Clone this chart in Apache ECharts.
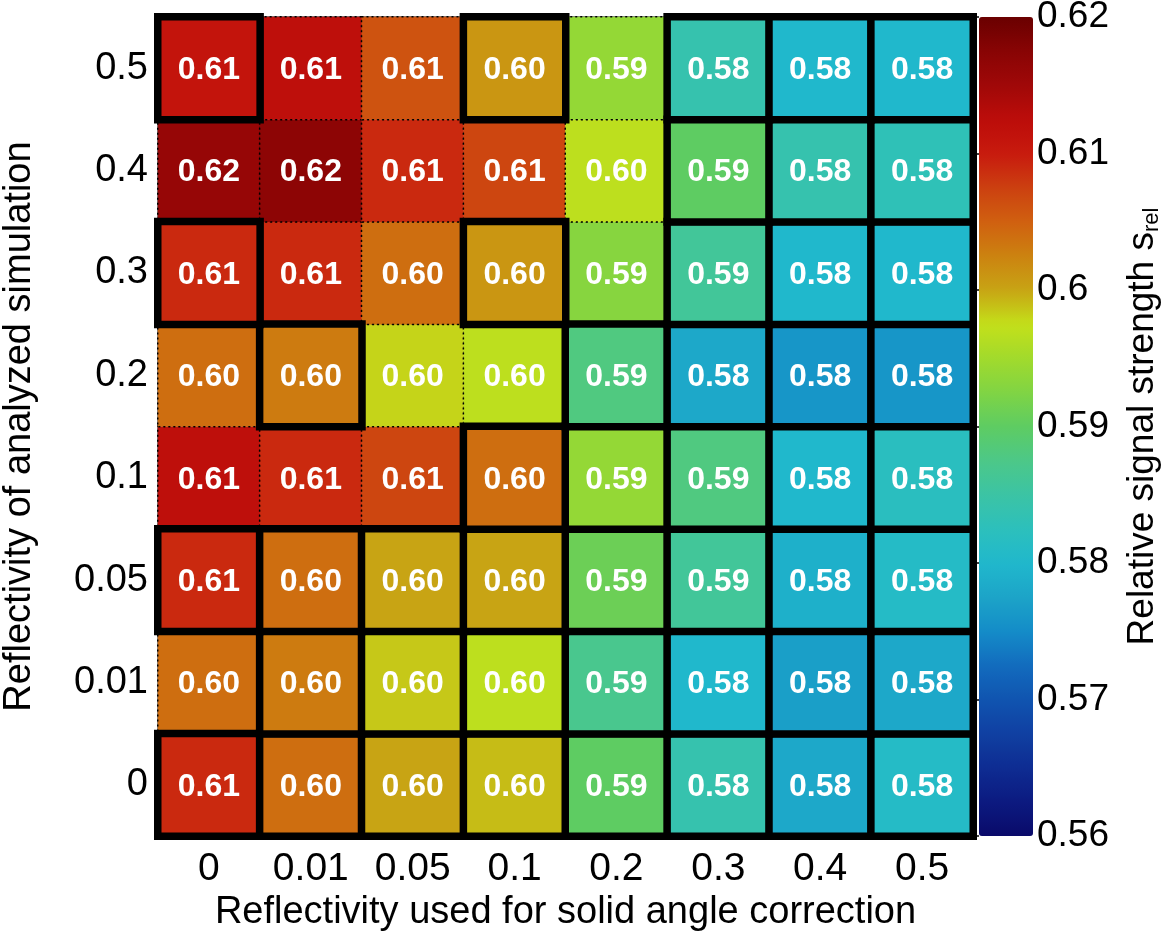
<!DOCTYPE html>
<html>
<head>
<meta charset="utf-8">
<script src="https://cdn.jsdelivr.net/npm/echarts@6/dist/echarts.min.js"></script>
<style>
html,body{margin:0;padding:0;background:#fff;}
#chart{width:1171px;height:931px;}
</style>
</head>
<body>
<div id="chart"></div>
<script>
// Categories
var xCategories = ['0', '0.01', '0.05', '0.1', '0.2', '0.3', '0.4', '0.5'];
var yCategories = ['0', '0.01', '0.05', '0.1', '0.2', '0.3', '0.4', '0.5'];

// Values: one row per y category (bottom row "0" first), columns follow xCategories
var row_0    = [0.609, 0.604, 0.600, 0.599, 0.590, 0.584, 0.578, 0.581];
var row_0_01 = [0.604, 0.603, 0.5985, 0.597, 0.587, 0.580, 0.577, 0.578];
var row_0_05 = [0.609, 0.604, 0.600, 0.600, 0.591, 0.586, 0.579, 0.581];
var row_0_1  = [0.612, 0.609, 0.607, 0.604, 0.594, 0.588, 0.580, 0.582];
var row_0_2  = [0.604, 0.603, 0.598, 0.597, 0.588, 0.578, 0.576, 0.576];
var row_0_3  = [0.609, 0.609, 0.604, 0.601, 0.593, 0.586, 0.580, 0.580];
var row_0_4  = [0.616, 0.617, 0.609, 0.607, 0.597, 0.590, 0.584, 0.583];
var row_0_5  = [0.611, 0.612, 0.606, 0.601, 0.594, 0.584, 0.580, 0.580];
var valueRows = [row_0, row_0_01, row_0_05, row_0_1, row_0_2, row_0_3, row_0_4, row_0_5];

// Cells framed by a thick box (1) or a dotted outline (0), same layout as valueRows
var box_0    = [1, 1, 1, 1, 1, 1, 1, 1];
var box_0_01 = [0, 1, 1, 1, 1, 1, 1, 1];
var box_0_05 = [1, 1, 1, 1, 1, 1, 1, 1];
var box_0_1  = [0, 0, 0, 1, 1, 1, 1, 1];
var box_0_2  = [0, 1, 0, 0, 1, 1, 1, 1];
var box_0_3  = [1, 0, 0, 1, 0, 1, 1, 1];
var box_0_4  = [0, 0, 0, 0, 0, 1, 1, 1];
var box_0_5  = [1, 0, 0, 1, 0, 1, 1, 1];
var boxRows = [box_0, box_0_01, box_0_05, box_0_1, box_0_2, box_0_3, box_0_4, box_0_5];

// Colour scale
var scaleMin = 0.56;
var scaleMax = 0.62;
var scaleStep = 0.01;

var palette = ['#0a0a6a','#0c1a80','#0e2c92','#1040a2','#1054b0','#126cbe','#148cc8','#1ca4c8',
  '#20b8cc','#2cc0bc','#3cc4a4','#4cc888','#5ecc62','#80d444','#a2da2c','#c4e01a',
  '#c8a414','#cc8210','#d06010','#cc4010','#c81a0e','#bc0c0a','#a00808','#880404','#6a0000'];

var plainData = [], boxedData = [];
for (var yi = 0; yi < yCategories.length; yi++) {
  for (var xi = 0; xi < xCategories.length; xi++) {
    var item = [xi, yi, valueRows[yi][xi]];
    if (boxRows[yi][xi]) boxedData.push(item); else plainData.push(item);
  }
}

var FONT = '"Liberation Sans", Arial, Helvetica, sans-serif';
var cellLabel = {
  show: true,
  color: '#fff',
  fontFamily: FONT,
  fontWeight: 'bold',
  fontSize: 32,
  offset: [0, 2],
  formatter: function (p) { return p.value[2].toFixed(2); }
};

var chart = echarts.init(document.getElementById('chart'), null, {renderer: 'canvas'});
chart.setOption({
  animation: false,
  backgroundColor: '#fff',
  textStyle: {fontFamily: FONT},
  grid: [
    {left: 158, top: 17, width: 815, height: 819, show: true, borderColor: '#000', borderWidth: 1,
     backgroundColor: 'transparent', containLabel: false, outerBoundsMode: 'none'},
    {left: 979, top: 17, width: 54, height: 819, show: false, containLabel: false, outerBoundsMode: 'none'}
  ],
  xAxis: [
    {
      type: 'category', gridIndex: 0, data: xCategories, position: 'bottom',
      axisLine: {show: false}, axisTick: {show: false}, splitLine: {show: false},
      axisLabel: {color: '#000', fontSize: 39, fontFamily: FONT, margin: 14},
      name: 'Reflectivity used for solid angle correction',
      nameLocation: 'middle', nameGap: 56,
      nameTextStyle: {color: '#000', fontSize: 38, fontFamily: FONT}
    },
    {type: 'value', gridIndex: 1, show: false}
  ],
  yAxis: [
    {
      type: 'category', gridIndex: 0, data: yCategories,
      axisLine: {show: false}, axisTick: {show: false}, splitLine: {show: false},
      axisLabel: {color: '#000', fontSize: 38, fontFamily: FONT, margin: 10},
      name: 'Reflectivity of analyzed simulation',
      nameLocation: 'middle', nameGap: 119,
      nameTextStyle: {color: '#000', fontSize: 38, fontFamily: FONT}
    },
    {
      type: 'value', gridIndex: 1, position: 'right',
      min: scaleMin, max: scaleMax, interval: scaleStep,
      axisLine: {show: false},
      axisTick: {show: true, inside: true, length: 27, lineStyle: {color: '#000', width: 1.5}},
      splitLine: {show: false},
      axisLabel: {color: '#000', fontSize: 37, fontFamily: FONT, margin: 4,
        formatter: function (v) { return String(+v.toFixed(2)); }},
      name: '{a|Relative signal strength s}{b|rel}',
      nameLocation: 'middle', nameGap: 90,
      nameTextStyle: {
        color: '#000', fontFamily: FONT,
        rich: {
          a: {fontSize: 37, color: '#000', fontFamily: FONT},
          b: {fontSize: 22, color: '#000', fontFamily: FONT, padding: [18, 0, 0, 0]}
        }
      }
    }
  ],
  visualMap: {
    type: 'continuous',
    min: scaleMin, max: scaleMax,
    calculable: false,
    realtime: false,
    hoverLink: false,
    show: true,
    seriesIndex: [0, 1],
    left: 979, top: 17,
    itemWidth: 54, itemHeight: 819,
    padding: 0,
    text: null,
    showLabel: false,
    inRange: {color: palette}
  },
  series: [
    {
      type: 'heatmap', xAxisIndex: 0, yAxisIndex: 0,
      data: plainData,
      itemStyle: {borderColor: '#000', borderWidth: 1.5, borderType: [2, 3]},
      label: cellLabel,
      emphasis: {disabled: true}
    },
    {
      type: 'heatmap', xAxisIndex: 0, yAxisIndex: 0,
      data: boxedData,
      itemStyle: {borderColor: '#000', borderWidth: 7.5},
      label: cellLabel,
      emphasis: {disabled: true}
    }
  ]
});
</script>
</body>
</html>
